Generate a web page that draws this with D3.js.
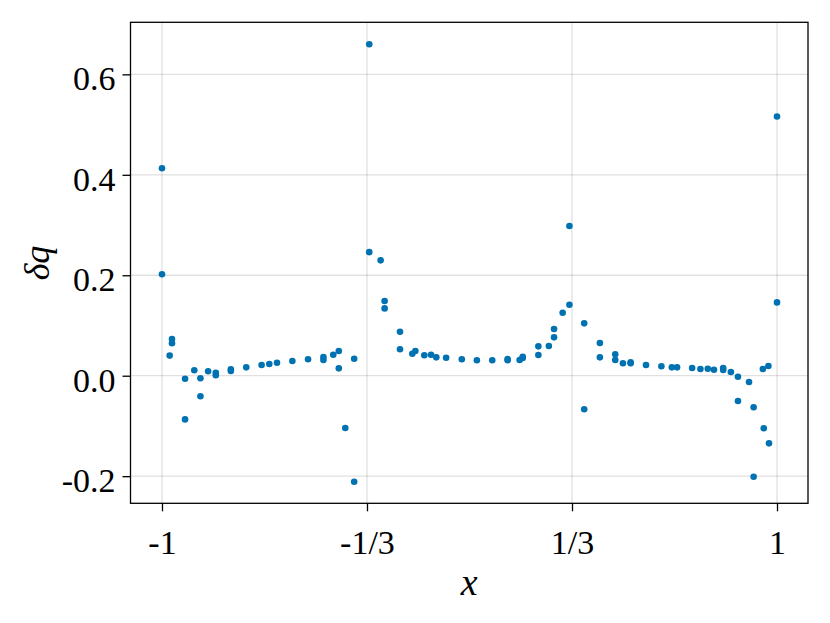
<!DOCTYPE html>
<html>
<head>
<meta charset="utf-8">
<script src="https://cdn.jsdelivr.net/npm/d3@7"></script>
<style>
  html, body { margin: 0; padding: 0; background: #fff; }
  svg { display: block; }
  text { font-family: "Liberation Serif", "DejaVu Serif", serif; fill: #000; }
</style>
</head>
<body>
<svg id="chart" width="830" height="623"></svg>
<script>
// ---- data ----
const xValues = [
  -1, -1, -0.9675, -0.9675, -0.975, -0.925, -0.925, -0.895, -0.875, -0.875,
  -0.85, -0.825, -0.825, -0.776, -0.776, -0.726, -0.676, -0.651, -0.626, -0.576,
  -0.525, -0.475, -0.475, -0.443, -0.425, -0.425, -0.404, -0.375, -0.375,
  -0.326, -0.326, -0.289, -0.276, -0.276, -0.226, -0.226, -0.186, -0.176, -0.147,
  -0.125, -0.108, -0.076, -0.025, 0.024, 0.074, 0.124, 0.124, 0.163, 0.173,
  0.173, 0.224, 0.224, 0.258, 0.275, 0.275,
  0.303, 0.325, 0.325, 0.373, 0.373, 0.424, 0.424, 0.474, 0.474, 0.499,
  0.524, 0.524, 0.574, 0.624, 0.658, 0.675, 0.724, 0.751, 0.775, 0.795,
  0.825, 0.825, 0.850, 0.873, 0.873, 0.909, 0.924, 0.924, 0.954, 0.957,
  0.972, 0.974, 1, 1
];
const dqValues = [
  0.413, 0.202, 0.073, 0.0645, 0.040, -0.006, -0.087, 0.011, -0.005, -0.041,
  0.009, 0.006, 0.001, 0.0127, 0.0094, 0.0167, 0.0213, 0.0233, 0.0259, 0.0293,
  0.0327, 0.0372, 0.0313, 0.0418, 0.0492, 0.0147, -0.104, 0.0338, -0.211,
  0.660, 0.246, 0.2297, 0.1487, 0.134, 0.0876, 0.0526, 0.0438, 0.0492, 0.0406,
  0.0418, 0.0366, 0.0358, 0.0327, 0.0307, 0.0307, 0.0332, 0.0307, 0.0313, 0.0378,
  0.0352, 0.0585, 0.0412, 0.0591, 0.093, 0.0764,
  0.1254, 0.1413, 0.298, 0.1043, -0.0669, 0.0651, 0.0366, 0.0426, 0.0313, 0.0247,
  0.0267, 0.0247, 0.0213, 0.0187, 0.0167, 0.0167, 0.0153, 0.0133, 0.0139, 0.0119,
  0.0153, 0.0113, 0.0074, -0.002, -0.0504, -0.0125, -0.0629, -0.201, 0.0133, -0.1047,
  0.0193, -0.1346, 0.146, 0.516
];
const xTicks = [-1, -1/3, 1/3, 1];
const xTickLabels = ["-1", "-1/3", "1/3", "1"];
const yTicks = [-0.2, 0, 0.2, 0.4, 0.6];
const yTickLabels = ["-0.2", "0.0", "0.2", "0.4", "0.6"];
const xDomain = [-1.1024, 1.1008];
const yDomain = [-0.2540, 0.7036];

// ---- layout ----
const plot = { left: 130.5, right: 808, top: 22.3, bottom: 503.3 };
const svg = d3.select("#chart");
const x = d3.scaleLinear().domain(xDomain).range([plot.left, plot.right]);
const y = d3.scaleLinear().domain(yDomain).range([plot.bottom, plot.top]);
const color = "#0072B2";
const fontSize = 34;

// grid
const grid = svg.append("g");
grid.selectAll(".gx").data(xTicks).enter().append("line")
  .attr("x1", d => x(d)).attr("x2", d => x(d))
  .attr("y1", plot.top).attr("y2", plot.bottom)
  .attr("stroke", "#000").attr("stroke-opacity", 0.12).attr("stroke-width", 1.3);
grid.selectAll(".gy").data(yTicks).enter().append("line")
  .attr("x1", plot.left).attr("x2", plot.right)
  .attr("y1", d => y(d)).attr("y2", d => y(d))
  .attr("stroke", "#000").attr("stroke-opacity", 0.12).attr("stroke-width", 1.3);

// points
const pts = xValues.map((v, i) => ({ x: v, y: dqValues[i] }));
svg.append("g").selectAll("circle").data(pts).enter().append("circle")
  .attr("cx", d => x(d.x)).attr("cy", d => y(d.y))
  .attr("r", 3.3).attr("fill", color);

// axes
const xAxis = d3.axisBottom(x).tickValues(xTicks)
  .tickFormat((d, i) => xTickLabels[i]).tickSize(8).tickSizeOuter(0).tickPadding(22);
const gx = svg.append("g").attr("transform", `translate(0,${plot.bottom})`).call(xAxis);
gx.select(".domain").remove();
gx.selectAll(".tick line").attr("stroke", "#000").attr("stroke-width", 1.3);
gx.selectAll(".tick text").attr("font-size", fontSize)
  .attr("font-family", "Liberation Serif, DejaVu Serif, serif")
  .attr("dy", "0.62em");

const yAxis = d3.axisLeft(y).tickValues(yTicks)
  .tickFormat((d, i) => yTickLabels[i]).tickSize(8).tickSizeOuter(0).tickPadding(7);
const gy = svg.append("g").attr("transform", `translate(${plot.left},0)`).call(yAxis);
gy.select(".domain").remove();
gy.selectAll(".tick line").attr("stroke", "#000").attr("stroke-width", 1.3);
gy.selectAll(".tick text").attr("font-size", fontSize)
  .attr("font-family", "Liberation Serif, DejaVu Serif, serif")
  .attr("dy", "0.45em");

// frame
svg.append("rect")
  .attr("x", plot.left).attr("y", plot.top)
  .attr("width", plot.right - plot.left).attr("height", plot.bottom - plot.top)
  .attr("fill", "none").attr("stroke", "#000").attr("stroke-width", 1.3);

// axis labels
svg.append("text")
  .attr("x", (plot.left + plot.right) / 2).attr("y", 595)
  .attr("text-anchor", "middle").attr("font-size", 38).attr("font-style", "italic")
  .text("x");
svg.append("text")
  .attr("transform", `translate(49,263) rotate(-90)`)
  .attr("text-anchor", "middle").attr("font-size", 36).attr("font-style", "italic")
  .text("δq");
</script>
</body>
</html>
